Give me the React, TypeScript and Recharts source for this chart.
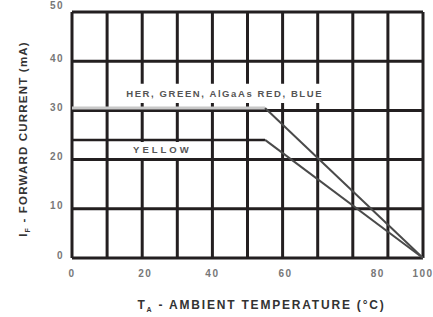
import {
  LineChart,
  Line,
  XAxis,
  YAxis,
  CartesianGrid,
  ReferenceArea,
  Label,
} from "recharts"

// ambient temperature (°C) at the break points of the derating curves
const temps = [0, 55, 100]
// forward current (mA)
const herGreenBlue = [30.5, 30.5, 0]
const yellow = [24, 24, 0]

const xTicks = [0, 20, 40, 60, 80, 100]
const yTicks = [0, 10, 20, 30, 40, 50]
const gridTemps = [0, 10, 20, 30, 40, 50, 60, 70, 80, 90, 100]

const herLabel = "HER, GREEN, AlGaAs RED, BLUE"
const yellowLabel = "YELLOW"

// flat part and sloped part drawn as separate pieces
const data = temps.map((t, i) => ({
  temp: t,
  herFlat: i <= 1 ? herGreenBlue[i] : null,
  herSlope: i >= 1 ? herGreenBlue[i] : null,
  yelFlat: i <= 1 ? yellow[i] : null,
  yelSlope: i >= 1 ? yellow[i] : null,
}))

const font = "'Liberation Sans', Arial, sans-serif"

function XTick({ x, y, payload }: any) {
  // the 80 label sits a bit right in the original
  const shift = payload.value === 80 ? 25 : payload.value === 20 ? 3 : payload.value === 60 ? 3 : 0
  return (
    <text
      x={x + shift}
      y={y + 11}
      textAnchor="middle"
      fontFamily={font}
      fontSize={10}
      fontWeight="bold"
      letterSpacing={1.5}
      fill="#777"
    >
      {payload.value}
    </text>
  )
}

function YTick({ x, y, payload }: any) {
  const up = payload.value === 50 ? 7 : 3
  return (
    <text
      x={x}
      y={y - up + 3.5}
      textAnchor="end"
      fontFamily={font}
      fontSize={10}
      fontWeight="bold"
      letterSpacing={1.5}
      fill="#777"
    >
      {payload.value}
    </text>
  )
}

function XTitle({ viewBox }: any) {
  const cx = viewBox.x + viewBox.width / 2 + 14
  return (
    <text
      x={cx}
      y={309}
      textAnchor="middle"
      fontFamily={font}
      fontSize={12}
      fontWeight="bold"
      letterSpacing={1.8}
      fill="#333"
    >
      T<tspan fontSize={7} dy={3}>A</tspan>
      <tspan dy={-3}> - AMBIENT TEMPERATURE (°C)</tspan>
    </text>
  )
}

function YTitle() {
  return (
    <text
      transform="translate(27, 139) rotate(-90)"
      textAnchor="middle"
      fontFamily={font}
      fontSize={11.5}
      fontWeight="bold"
      letterSpacing={1.2}
      fill="#333"
    >
      I<tspan fontSize={7} dy={3}>F</tspan>
      <tspan dy={-3}> - FORWARD CURRENT (mA)</tspan>
    </text>
  )
}

export default function App() {
  return (
    <div style={{ position: "absolute", left: 0, top: 0, background: "#fff" }}>
      <LineChart
        width={433}
        height={317}
        data={data}
        margin={{ top: 12, right: 10, left: 0, bottom: 0 }}
      >
        <CartesianGrid
          stroke="#231f20"
          strokeWidth={3}
          verticalValues={gridTemps}
          horizontalValues={yTicks}
        />
        <XAxis
          dataKey="temp"
          type="number"
          domain={[0, 100]}
          ticks={xTicks}
          axisLine={false}
          tickLine={false}
          height={59}
          tick={<XTick />}
          interval={0}
        >
          <Label content={<XTitle />} />
        </XAxis>
        <YAxis
          type="number"
          domain={[0, 50]}
          ticks={yTicks}
          axisLine={false}
          tickLine={false}
          width={72}
          tick={<YTick />}
          interval={0}
        >
          <Label content={<YTitle />} />
        </YAxis>

        <ReferenceArea
          x1={13.5}
          x2={73.5}
          y1={31.5}
          y2={35.4}
          fill="#fff"
          fillOpacity={1}
          stroke="none"
          label={{
            value: herLabel,
            position: "center",
            fontFamily: font,
            fontSize: 9.5,
            fontWeight: "bold",
            letterSpacing: 1.6,
            fill: "#555",
          }}
        />
        <ReferenceArea
          x1={14}
          x2={37.5}
          y1={20.3}
          y2={23.6}
          fill="#fff"
          fillOpacity={1}
          stroke="none"
          label={{
            value: yellowLabel,
            position: "center",
            fontFamily: font,
            fontSize: 9.5,
            fontWeight: "bold",
            letterSpacing: 3,
            fill: "#555",
          }}
        />

        <Line
          dataKey="herFlat"
          stroke="#c8c8c8"
          strokeWidth={3}
          dot={false}
          isAnimationActive={false}
        />
        <Line
          dataKey="herSlope"
          stroke="#4a4a4a"
          strokeWidth={2}
          dot={false}
          isAnimationActive={false}
        />
        <Line
          dataKey="yelFlat"
          stroke="#231f20"
          strokeWidth={2.5}
          dot={false}
          isAnimationActive={false}
        />
        <Line
          dataKey="yelSlope"
          stroke="#4a4a4a"
          strokeWidth={2}
          dot={false}
          isAnimationActive={false}
        />
      </LineChart>
    </div>
  )
}
